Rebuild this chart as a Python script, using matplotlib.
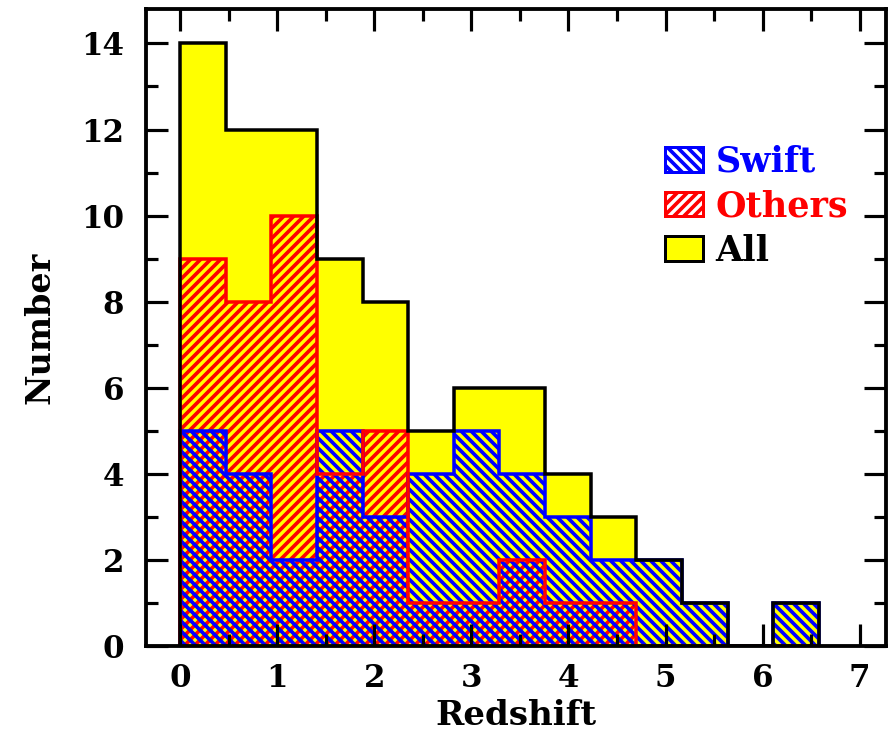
import numpy as np
import matplotlib
matplotlib.use("Agg")
import matplotlib.pyplot as plt
from matplotlib.patches import Patch

# redshift bins (width 0.47) and counts per bin
bin_edges = np.round(np.arange(15) * 0.47, 2)
n_all = [14, 12, 12, 9, 8, 5, 6, 6, 4, 3, 2, 1, 0, 1]
n_swift = [5, 4, 2, 5, 3, 4, 5, 4, 3, 2, 2, 1, 0, 1]
n_others = [9, 8, 10, 4, 5, 1, 1, 2, 1, 1, 0, 0, 0, 0]

DPI = 120
plt.rcParams['font.family'] = 'DejaVu Serif'
plt.rcParams['font.weight'] = 'bold'
plt.rcParams['hatch.linewidth'] = 2.2

fig = plt.figure(figsize=(889 / DPI, 735 / DPI), dpi=DPI)
ax = fig.add_axes([146 / 889, 89 / 735, 740 / 889, 637 / 735])

# filled histograms
ax.stairs(n_all, bin_edges, fill=True, facecolor='yellow', edgecolor='none', baseline=0)
ax.stairs(n_others, bin_edges, fill=True, facecolor='none', edgecolor='red',
          hatch='////', linewidth=0, baseline=0)
ax.stairs(n_swift, bin_edges, fill=True, facecolor='none', edgecolor='blue',
          hatch='\\\\\\\\', linewidth=0, baseline=0)

# outlines on top
ax.stairs(n_swift, bin_edges, color='blue', linewidth=2.1, baseline=0)
ax.stairs(n_others, bin_edges, color='red', linewidth=2.1, baseline=0)
ax.stairs(n_all, bin_edges, color='black', linewidth=2.1, baseline=0)

ax.set_xlim(-0.35, 7.27)
ax.set_ylim(0, 14.8)
ax.set_xticks(np.arange(0, 8, 1))
ax.set_xticks(np.arange(0, 7.5, 0.5), minor=True)
ax.set_yticks(np.arange(0, 15, 2))
ax.set_yticks(np.arange(0, 15, 1), minor=True)
ax.tick_params(which='both', direction='in', top=True, right=True, width=1.9,
               labelsize=18.5)
ax.tick_params(which='major', length=13)
ax.tick_params(which='minor', length=7)
ax.tick_params(axis='y', pad=13)
ax.tick_params(axis='x', pad=10)
for s in ax.spines.values():
    s.set_linewidth(2.3)

ax.set_xlabel('Redshift', fontsize=20.5, fontweight='bold', labelpad=3)
ax.set_ylabel('Number', fontsize=20, fontweight='bold', labelpad=15)

handles = [
    Patch(facecolor='white', edgecolor='blue', hatch='\\\\\\\\', linewidth=1.8),
    Patch(facecolor='white', edgecolor='red', hatch='////', linewidth=1.8),
    Patch(facecolor='yellow', edgecolor='black', linewidth=1.8),
]
leg = ax.legend(handles, ['Swift', 'Others', 'All'], loc='upper left',
                bbox_to_anchor=(0.701, 0.787), frameon=False, fontsize=21,
                handlelength=1.1, handleheight=0.7, labelspacing=0.3,
                handletextpad=0.35, borderpad=0, borderaxespad=0)
for txt, c in zip(leg.get_texts(), ['blue', 'red', 'black']):
    txt.set_color(c)

fig.savefig('out.png', dpi=DPI)
